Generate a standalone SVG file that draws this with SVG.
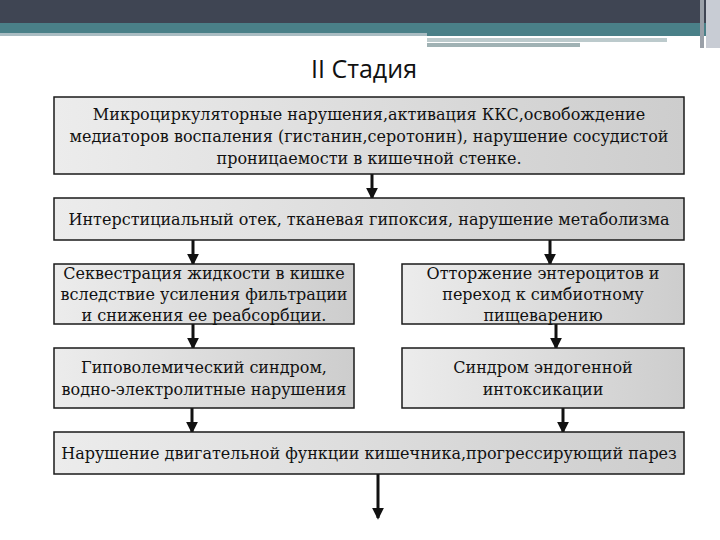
<svg xmlns="http://www.w3.org/2000/svg" width="720" height="540" viewBox="0 0 720 540">
<style>
.box{stroke:#1a1a1a;stroke-width:1.5;fill:url(#g)}
.t{font-family:"DejaVu Serif","Liberation Serif",serif;font-size:16px;fill:#111;text-anchor:middle}
.title{font-family:"Open Sans","Noto Sans","Liberation Sans",sans-serif;font-size:25px;fill:#111;text-anchor:middle}
.c line{stroke:#111;stroke-width:3;marker-end:url(#ah)}
</style>
<defs>
<linearGradient id="g" x1="0" y1="0" x2="1" y2="0">
<stop offset="0" stop-color="#ececec"/>
<stop offset="1" stop-color="#cdcdcd"/>
</linearGradient>
<marker id="ah" markerWidth="4" markerHeight="4" refX="3.4" refY="2" orient="auto" markerUnits="strokeWidth">
<path d="M0,0 L4,2 L0,4 z" fill="#111"/>
</marker>
</defs>
<rect width="720" height="540" fill="#fff"/>
<g id="header">
<rect x="0" y="0" width="720" height="23" fill="#3f4553"/>
<rect x="0" y="23" width="720" height="10" fill="#4a8088"/>
<rect x="0" y="33" width="427" height="3" fill="#a9bcc2"/>
<rect x="427" y="33" width="280" height="3" fill="#4a8088"/>
<rect x="427" y="38" width="240" height="4" fill="#bccacc"/>
<rect x="427" y="43" width="153" height="4" fill="#a0b2b4"/>
<rect x="700" y="0" width="4" height="48" fill="#9aa0a8"/>
<rect x="706" y="0" width="14" height="48" fill="#c8ccd4"/>
</g>
<text class="title" x="364" y="78">II Стадия</text>
<g class="c" id="connectors">
<line x1="372" y1="174" x2="372" y2="198"/>
<line x1="193" y1="240" x2="193" y2="264"/>
<line x1="550" y1="240" x2="550" y2="264"/>
<line x1="193" y1="324" x2="193" y2="348"/>
<line x1="556" y1="324" x2="556" y2="348"/>
<line x1="192" y1="408" x2="192" y2="432"/>
<line x1="563" y1="408" x2="563" y2="432"/>
<line x1="378" y1="474" x2="378" y2="518"/>
</g>
<g id="n1">
<rect class="box" x="54" y="97" width="630" height="77"/>
<text class="t" x="369" y="120">Микроциркуляторные нарушения,активация ККС,освобождение</text>
<text class="t" x="369" y="142">медиаторов воспаления (гистанин,серотонин), нарушение сосудистой</text>
<text class="t" x="369" y="164">проницаемости в кишечной стенке.</text>
</g>
<g id="n2">
<rect class="box" x="54" y="198" width="630" height="42"/>
<text class="t" x="369" y="225">Интерстициальный отек, тканевая гипоксия, нарушение метаболизма</text>
</g>
<g id="n3">
<rect class="box" x="54" y="264" width="300" height="60"/>
<text class="t" x="204" y="279">Секвестрация жидкости в кишке</text>
<text class="t" x="204" y="300">вследствие усиления фильтрации</text>
<text class="t" x="204" y="321">и снижения ее реабсорбции.</text>
</g>
<g id="n4">
<rect class="box" x="402" y="264" width="282" height="60"/>
<text class="t" x="543" y="279">Отторжение энтероцитов и</text>
<text class="t" x="543" y="300">переход к симбиотному</text>
<text class="t" x="543" y="321">пищеварению</text>
</g>
<g id="n5">
<rect class="box" x="54" y="348" width="300" height="60"/>
<text class="t" x="204" y="373">Гиповолемический синдром,</text>
<text class="t" x="204" y="395">водно-электролитные нарушения</text>
</g>
<g id="n6">
<rect class="box" x="402" y="348" width="282" height="60"/>
<text class="t" x="543" y="373">Синдром эндогенной</text>
<text class="t" x="543" y="395">интоксикации</text>
</g>
<g id="n7">
<rect class="box" x="54" y="432" width="630" height="42"/>
<text class="t" x="369" y="459">Нарушение двигательной функции кишечника,прогрессирующий парез</text>
</g>
</svg>
